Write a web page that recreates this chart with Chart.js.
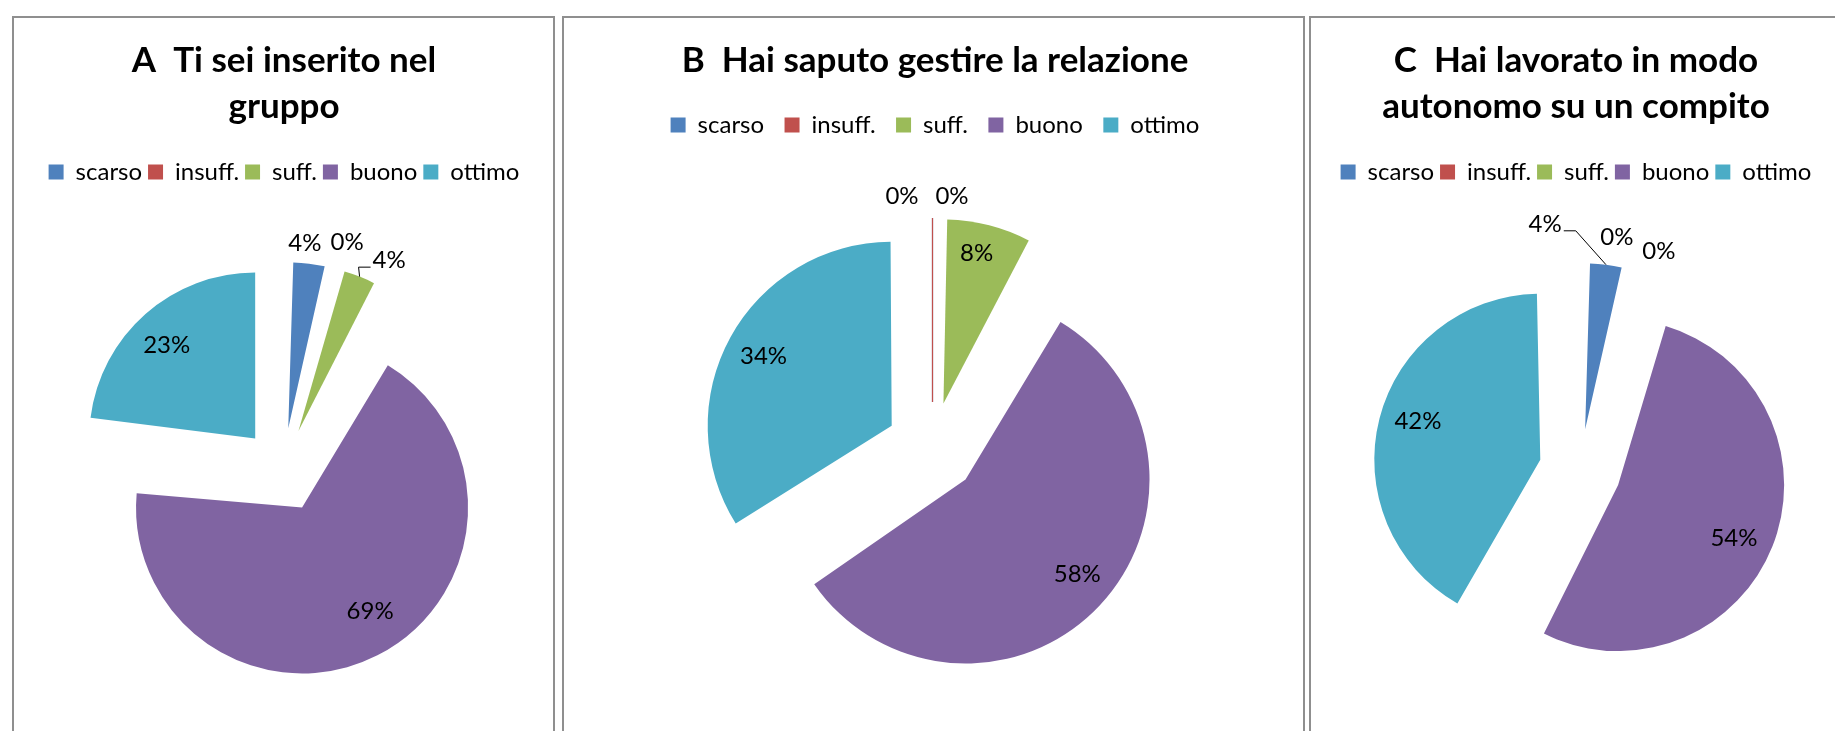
<!DOCTYPE html>
<html>
<head>
<meta charset="utf-8">
<title>Valutazione lavoro di gruppo</title>
<script src="https://cdn.jsdelivr.net/npm/chart.js@4.4.0/dist/chart.umd.min.js"></script>
<style>
    html, body { margin: 0; padding: 0; background: #fff; overflow: hidden; width: 1835px; height: 731px; }
    .frame { position: absolute; top: 16px; height: 800px; border: 2px solid #8f8f8f; box-sizing: border-box; }
    canvas { position: absolute; top: 0; }
</style>
</head>
<body>
<div class="frame" style="left:12px;width:543px"></div>
<div class="frame" style="left:562px;width:743px"></div>
<div class="frame" style="left:1309px;width:561px"></div>
<canvas id="chartA" width="568" height="731" style="left:0"></canvas>
<canvas id="chartB" width="750" height="731" style="left:560px"></canvas>
<canvas id="chartC" width="560" height="731" style="left:1296px"></canvas>
<script>
// dati (percentuali)
const categories = ['scarso', 'insuff.', 'suff.', 'buono', 'ottimo'];
const colors = ['#4F81BD', '#C0504D', '#9BBB59', '#8064A2', '#4BACC6'];

const titleA = ['A  Ti sei inserito nel', 'gruppo'];
const valuesA = [4, 0, 4, 69, 23];

const titleB = 'B  Hai saputo gestire la relazione';
const valuesB = [0, 0, 8, 58, 34];

const titleC = ['C  Hai lavorato in modo', 'autonomo su un compito'];
const valuesC = [4, 0, 0, 54, 42];

// places the pie, keeps exploded slices at one radius, draws the % labels
const pieDecor = {
    id: 'pieDecor',
    afterLayout(chart, args, opts) {
        const s = opts.radius + opts.explode + 40;
        chart.chartArea = {
            left: opts.cx - s, right: opts.cx + s,
            top: opts.cy - s, bottom: opts.cy + s,
            width: 2 * s, height: 2 * s
        };
    },
    beforeDatasetsDraw(chart, args, opts) {
        // chart.js grows offset slices by offset/4 * fix; undo that
        chart.getDatasetMeta(0).data.forEach(arc => {
            const fix = 1 - Math.sin(Math.min(Math.PI, arc.circumference));
            arc.outerRadius = opts.radius - opts.explode * fix;
        });
    },
    afterDatasetsDraw(chart, args, opts) {
        const ctx = chart.ctx;
        const meta = chart.getDatasetMeta(0);
        const values = chart.data.datasets[0].data;
        const R = opts.radius, d = opts.explode;
        ctx.save();

        // Excel leaves a hairline for an empty slice
        meta.data.forEach((arc, i) => {
            if (!opts.zeroLines || arc.circumference !== 0) return;
            const a = arc.startAngle;
            const ax = arc.x + Math.cos(a) * d, ay = arc.y + Math.sin(a) * d;
            ctx.strokeStyle = colors[i];
            ctx.lineWidth = 1.2;
            ctx.beginPath();
            ctx.moveTo(Math.round(ax) + 0.5, ay);
            ctx.lineTo(Math.round(ax + Math.cos(a) * R) + 0.5, ay + Math.sin(a) * R);
            ctx.stroke();
        });

        ctx.font = opts.font;
        ctx.fillStyle = '#000';
        ctx.textAlign = 'center';
        ctx.textBaseline = 'middle';
        meta.data.forEach((arc, i) => {
            const mid = (arc.startAngle + arc.endAngle) / 2;
            const cos = Math.cos(mid), sin = Math.sin(mid);
            const ax = arc.x + cos * d, ay = arc.y + sin * d;
            const text = values[i] + '%';
            const lab = opts.labels[i];
            const dist = lab.out ? R + 22 : R * 0.77;
            const x = ax + cos * dist + lab.dx;
            const y = ay + sin * dist + lab.dy;
            if (lab.leader) {
                const px = ax + cos * R, py = ay + sin * R;
                const half = ctx.measureText(text).width / 2;
                const side = x > px ? -1 : 1;
                const ex = x + side * (half + 2), ey = y + 7;
                ctx.strokeStyle = '#000';
                ctx.lineWidth = 1;
                ctx.beginPath();
                ctx.moveTo(px, py);
                ctx.lineTo(ex + side * 12, ey);
                ctx.lineTo(ex, ey);
                ctx.stroke();
            }
            ctx.fillText(text, x, y);
        });
        ctx.restore();
    }
};

const makePie = (id, title, values, cfg) => new Chart(document.getElementById(id), {
    type: 'pie',
    data: {
        labels: categories,
        datasets: [{
            data: values,
            backgroundColor: colors,
            borderWidth: 0,
            offset: cfg.explode * 4,
            radius: cfg.radius,
            clip: false
        }]
    },
    options: {
        responsive: false,
        animation: false,
        events: [],
        plugins: {
            title: {
                display: true,
                text: title,
                color: '#000',
                font: { family: 'Lato', size: 35, weight: 'bold', lineHeight: '46px' },
                padding: { top: 38, bottom: cfg.titleBottom }
            },
            legend: {
                position: 'top',
                labels: {
                    color: '#000',
                    font: { family: 'Lato', size: 24 },
                    boxWidth: 15,
                    boxHeight: 15,
                    padding: cfg.legendGap
                }
            },
            tooltip: { enabled: false },
            pieDecor: {
                cx: cfg.cx, cy: cfg.cy,
                radius: cfg.radius, explode: cfg.explode,
                labels: cfg.labels,
                zeroLines: cfg.zeroLines,
                font: '24px Lato'
            }
        }
    },
    plugins: [pieDecor]
});

makePie('chartA', titleA, valuesA, {
    titleBottom: 24, legendGap: 6,
    cx: 283, cy: 470, radius: 166, explode: 42,
    labels: [
        { out: true, dx: -7, dy: 1 },
        { out: true, dx: 7, dy: -4.5 },
        { out: true, leader: true, dx: 21.5, dy: 4 },
        { dx: 10, dy: -10 },
        { dx: -4, dy: 3 }
    ]
});

makePie('chartB', titleB, valuesB, {
    titleBottom: 8.5, legendGap: 20.5,
    cx: 372, cy: 448, radius: 184, explode: 46, zeroLines: true,
    labels: [
        { out: true, dx: -30, dy: 0 },
        { out: true, dx: 20, dy: 0 },
        { dx: -2, dy: -13 },
        { dx: 8.5, dy: -2.5 },
        { dx: -4, dy: -1.5 }
    ]
});

makePie('chartC', titleC, valuesC, {
    titleBottom: 24, legendGap: 6,
    cx: 284, cy: 470, radius: 166, explode: 41,
    labels: [
        { out: true, leader: true, dx: -63.5, dy: -19 },
        { out: true, dx: -20, dy: -11 },
        { out: true, dx: 22, dy: 3.5 },
        { dx: -3, dy: 6 },
        { dx: 1.5, dy: -6.5 }
    ]
});
</script>
</body>
</html>
